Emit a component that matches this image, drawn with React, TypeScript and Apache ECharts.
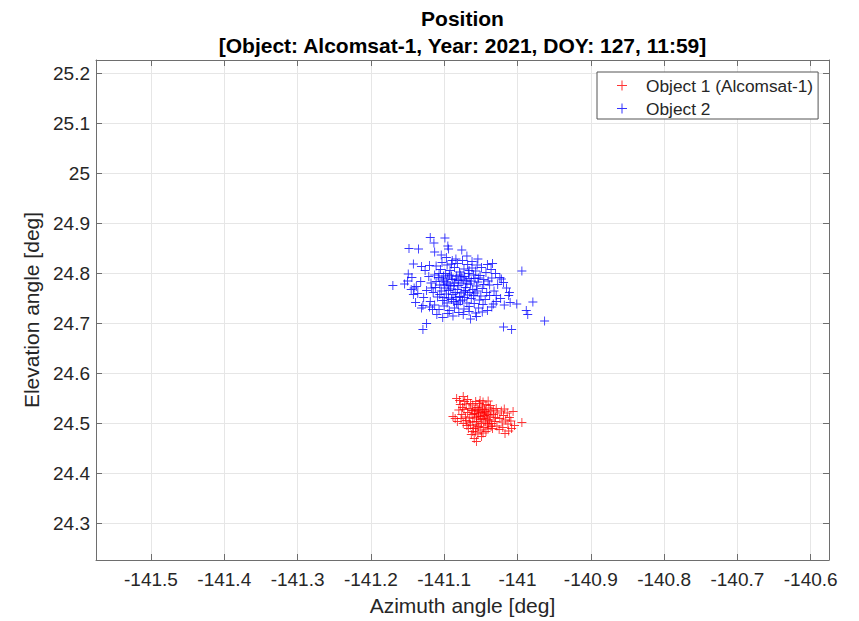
import React, { useEffect, useRef } from "react";
import * as echarts from "echarts";

// Tick positions (deg)
const azTicks = [-141.5, -141.4, -141.3, -141.2, -141.1, -141.0, -140.9, -140.8, -140.7, -140.6];
const elTicks = [24.3, 24.4, 24.5, 24.6, 24.7, 24.8, 24.9, 25.0, 25.1, 25.2];
const azRange = [-141.575, -140.575];
const elRange = [24.227, 25.227];

const seriesNames = ["Object 1 (Alcomsat-1)", "Object 2"];
const seriesColors = ["#ff0000", "#0000ff"];

// Object 1 (Alcomsat-1): [azimuth, elevation] in degrees
const object1Points: [number, number][] = [
  [-141.083, 24.55], [-141.074, 24.554], [-141.072, 24.544], [-141.085, 24.51], [-141.088, 24.514],
  [-141.006, 24.524], [-140.994, 24.502], [-141.008, 24.49], [-141.017, 24.48], [-141.056, 24.464],
  [-141.049, 24.474], [-141.078, 24.538], [-141.068, 24.548], [-141.064, 24.54], [-141.08, 24.527],
  [-141.076, 24.518], [-141.082, 24.504], [-141.07, 24.506], [-141.066, 24.53], [-141.061, 24.537],
  [-141.058, 24.525], [-141.055, 24.532], [-141.052, 24.54], [-141.048, 24.535], [-141.045, 24.528],
  [-141.042, 24.521], [-141.039, 24.531], [-141.036, 24.525], [-141.033, 24.518], [-141.03, 24.512],
  [-141.062, 24.518], [-141.059, 24.511], [-141.056, 24.504], [-141.053, 24.515], [-141.05, 24.522],
  [-141.047, 24.51], [-141.044, 24.503], [-141.041, 24.497], [-141.038, 24.507], [-141.035, 24.5],
  [-141.064, 24.497], [-141.06, 24.49], [-141.057, 24.483], [-141.053, 24.494], [-141.05, 24.487],
  [-141.046, 24.492], [-141.043, 24.484], [-141.04, 24.489], [-141.068, 24.522], [-141.071, 24.513],
  [-141.073, 24.528], [-141.067, 24.49], [-141.063, 24.478], [-141.059, 24.47], [-141.054, 24.479],
  [-141.047, 24.481], [-141.027, 24.521], [-141.024, 24.51], [-141.021, 24.503], [-141.019, 24.516],
  [-141.016, 24.507], [-141.013, 24.499], [-141.011, 24.512], [-141.028, 24.495], [-141.025, 24.488],
  [-141.031, 24.504], [-141.034, 24.49], [-141.037, 24.515], [-141.057, 24.544], [-141.051, 24.546],
  [-141.047, 24.543], [-141.043, 24.538], [-141.04, 24.545], [-141.037, 24.536], [-141.054, 24.519],
  [-141.051, 24.508], [-141.049, 24.5], [-141.045, 24.516], [-141.058, 24.528], [-141.061, 24.503],
  [-141.065, 24.511], [-141.062, 24.526], [-141.055, 24.497], [-141.043, 24.511], [-141.048, 24.527],
  [-141.052, 24.531], [-141.056, 24.513], [-141.059, 24.52], [-141.046, 24.521], [-141.04, 24.518],
  [-141.033, 24.527], [-141.029, 24.53], [-141.022, 24.525], [-141.018, 24.529], [-141.014, 24.521],
  [-141.009, 24.505], [-141.004, 24.496], [-141.012, 24.485], [-141.02, 24.492], [-141.079, 24.546],
  [-141.075, 24.532], [-141.07, 24.539], [-141.077, 24.51], [-141.074, 24.5], [-141.069, 24.496],
  [-141.066, 24.503], [-141.053, 24.525], [-141.05, 24.514], [-141.044, 24.524], [-141.041, 24.507],
  [-141.039, 24.5], [-141.036, 24.494], [-141.057, 24.491], [-141.061, 24.484],
];

// Object 2: [azimuth, elevation] in degrees
const object2Points: [number, number][] = [
  [-141.119, 24.872], [-141.099, 24.871], [-141.114, 24.861], [-141.095, 24.855], [-141.094, 24.849],
  [-141.148, 24.85], [-141.135, 24.849], [-141.113, 24.843], [-141.104, 24.837], [-141.097, 24.832],
  [-141.076, 24.847], [-141.069, 24.835], [-141.054, 24.829], [-141.084, 24.829], [-141.142, 24.819],
  [-141.131, 24.814], [-141.12, 24.816], [-141.09, 24.819], [-141.034, 24.82], [-140.994, 24.805],
  [-141.149, 24.799], [-141.144, 24.792], [-141.17, 24.776], [-141.154, 24.779], [-141.138, 24.774],
  [-141.142, 24.758], [-141.022, 24.789], [-141.129, 24.736], [-141.12, 24.733], [-141.124, 24.7],
  [-141.129, 24.688], [-141.056, 24.714], [-141.064, 24.709], [-141.019, 24.693], [-141.008, 24.688],
  [-140.979, 24.743], [-140.988, 24.726], [-140.986, 24.718], [-140.963, 24.705], [-141.001, 24.739],
  [-141.012, 24.756], [-141.01, 24.742], [-141.029, 24.756], [-141.033, 24.739],
  [-141.108, 24.792], [-141.101, 24.785], [-141.095, 24.779], [-141.089, 24.788], [-141.083, 24.795],
  [-141.077, 24.781], [-141.071, 24.772], [-141.066, 24.79], [-141.06, 24.797], [-141.054, 24.783],
  [-141.112, 24.772], [-141.104, 24.765], [-141.097, 24.759], [-141.091, 24.769], [-141.085, 24.762],
  [-141.079, 24.754], [-141.073, 24.763], [-141.068, 24.757], [-141.061, 24.768], [-141.056, 24.775],
  [-141.118, 24.781], [-141.115, 24.762], [-141.109, 24.753], [-141.102, 24.746], [-141.094, 24.751],
  [-141.087, 24.744], [-141.081, 24.738], [-141.075, 24.747], [-141.069, 24.741], [-141.063, 24.75],
  [-141.098, 24.8], [-141.092, 24.806], [-141.086, 24.812], [-141.079, 24.803], [-141.073, 24.809],
  [-141.067, 24.8], [-141.062, 24.811], [-141.057, 24.805], [-141.051, 24.796], [-141.046, 24.788],
  [-141.043, 24.802], [-141.048, 24.77], [-141.042, 24.762], [-141.038, 24.777], [-141.035, 24.791],
  [-141.05, 24.755], [-141.044, 24.748], [-141.038, 24.756], [-141.032, 24.765], [-141.027, 24.778],
  [-141.121, 24.794], [-141.126, 24.806], [-141.124, 24.766], [-141.128, 24.752], [-141.132, 24.784],
  [-141.119, 24.744], [-141.113, 24.737], [-141.107, 24.728], [-141.1, 24.735], [-141.093, 24.726],
  [-141.086, 24.731], [-141.08, 24.722], [-141.073, 24.729], [-141.066, 24.734], [-141.059, 24.74],
  [-141.053, 24.731], [-141.047, 24.738], [-141.041, 24.726], [-141.035, 24.733], [-141.029, 24.744],
  [-141.023, 24.75], [-141.018, 24.737], [-141.105, 24.808], [-141.111, 24.815], [-141.103, 24.822],
  [-141.096, 24.817], [-141.089, 24.826], [-141.082, 24.82], [-141.075, 24.826], [-141.068, 24.818],
  [-141.062, 24.824], [-141.055, 24.817], [-141.049, 24.812], [-141.041, 24.818], [-141.036, 24.808],
  [-141.03, 24.8], [-141.024, 24.792], [-141.019, 24.782], [-141.015, 24.771], [-141.011, 24.762],
  [-141.106, 24.777], [-141.099, 24.771], [-141.093, 24.797], [-141.087, 24.775], [-141.081, 24.786],
  [-141.076, 24.793], [-141.07, 24.785], [-141.064, 24.779], [-141.058, 24.761], [-141.052, 24.747],
  [-141.116, 24.728], [-141.11, 24.718], [-141.102, 24.712], [-141.095, 24.72], [-141.088, 24.715],
  [-141.074, 24.718], [-141.066, 24.724], [-141.057, 24.721], [-141.048, 24.723], [-141.136, 24.76],
  [-141.139, 24.742], [-141.131, 24.731], [-141.141, 24.771], [-141.15, 24.785], [-141.145, 24.768],
  // dense core
  [-141.103, 24.789], [-141.097, 24.783], [-141.092, 24.776], [-141.086, 24.781], [-141.08, 24.776],
  [-141.074, 24.787], [-141.069, 24.779], [-141.063, 24.785], [-141.058, 24.79], [-141.1, 24.777],
  [-141.094, 24.766], [-141.088, 24.758], [-141.082, 24.768], [-141.077, 24.761], [-141.071, 24.766],
  [-141.065, 24.762], [-141.106, 24.758], [-141.1, 24.752], [-141.09, 24.748], [-141.084, 24.752],
  [-141.078, 24.745], [-141.072, 24.752], [-141.107, 24.8], [-141.101, 24.795], [-141.095, 24.791],
  [-141.09, 24.795], [-141.084, 24.789], [-141.078, 24.797], [-141.072, 24.794], [-141.066, 24.806],
  [-141.111, 24.784], [-141.113, 24.797], [-141.117, 24.771], [-141.096, 24.741], [-141.083, 24.741],
  [-141.06, 24.756], [-141.055, 24.765], [-141.053, 24.791], [-141.046, 24.778], [-141.04, 24.785],
];

// Thin "+" marker drawn as two 1-unit bars
const PLUS = "path://M4.5,0h1v10h-1z M0,4.5h10v1h-10z";
const FONT = '"Liberation Sans", Arial, Helvetica, sans-serif';
const AXIS_COLOR = "#262626";
const FRAME_COLOR = "#6e6e6e";
const GRID_COLOR = "#e6e6e6";

const fmt = (v: number) => String(Math.round(v * 10) / 10);

const GRID = { left: 96, right: 30, top: 60, bottom: 59 };

export default function App() {
  const ref = useRef<HTMLDivElement>(null);

  useEffect(() => {
    if (!ref.current) return;
    const chart = echarts.init(ref.current, null, { renderer: "svg" });

    const plotCenterX = GRID.left + (859 - GRID.left - GRID.right) / 2;

    const baseX = {
      type: "value" as const,
      min: azRange[0],
      max: azRange[1],
      axisLine: { show: true, onZero: false, lineStyle: { color: FRAME_COLOR, width: 1 } },
      axisTick: { show: true, inside: true, length: 6, customValues: azTicks, lineStyle: { color: FRAME_COLOR } },
    };
    const baseY = {
      type: "value" as const,
      min: elRange[0],
      max: elRange[1],
      axisLine: { show: true, onZero: false, lineStyle: { color: FRAME_COLOR, width: 1 } },
      axisTick: { show: true, inside: true, length: 6, customValues: elTicks, lineStyle: { color: FRAME_COLOR } },
    };

    chart.setOption({
      animation: false,
      backgroundColor: "#ffffff",
      grid: { ...GRID, containLabel: false },
      graphic: [
        {
          type: "text",
          x: plotCenterX,
          y: 18,
          style: {
            text: "Position",
            fontFamily: FONT,
            fontSize: 21,
            fontWeight: "bold",
            fill: "#000000",
            align: "center",
            verticalAlign: "middle",
          },
        },
        {
          type: "text",
          x: plotCenterX,
          y: 45,
          style: {
            text: "[Object: Alcomsat-1, Year: 2021, DOY: 127, 11:59]",
            fontFamily: FONT,
            fontSize: 21,
            fontWeight: "bold",
            fill: "#000000",
            align: "center",
            verticalAlign: "middle",
          },
        },
      ],
      legend: {
        left: 597,
        top: 72,
        orient: "vertical",
        padding: [5, 5, 2, 20],
        itemGap: 6,
        itemWidth: 38,
        itemHeight: 10,
        backgroundColor: "#ffffff",
        borderColor: "#555555",
        borderWidth: 1,
        textStyle: { fontFamily: FONT, fontSize: 17.3, color: AXIS_COLOR, lineHeight: 17 },
        data: seriesNames.map((name, i) => ({
          name,
          icon: PLUS,
          itemStyle: { color: seriesColors[i], opacity: 0.8 },
        })),
      },
      xAxis: [
        {
          ...baseX,
          position: "bottom",
          name: "Azimuth angle [deg]",
          nameLocation: "middle",
          nameGap: 35,
          nameTextStyle: { fontFamily: FONT, fontSize: 21, color: AXIS_COLOR },
          axisLabel: {
            show: true,
            margin: 10,
            customValues: azTicks,
            formatter: fmt,
            fontFamily: FONT,
            fontSize: 19,
            color: AXIS_COLOR,
          },
          splitLine: { show: true, lineStyle: { color: GRID_COLOR, width: 1 } },
        },
        {
          ...baseX,
          position: "top",
          axisLabel: { show: false },
          splitLine: { show: false },
        },
      ],
      yAxis: [
        {
          ...baseY,
          position: "left",
          name: "Elevation angle [deg]",
          nameLocation: "middle",
          nameGap: 43,
          nameTextStyle: { fontFamily: FONT, fontSize: 21, color: AXIS_COLOR },
          axisLabel: {
            show: true,
            margin: 6,
            customValues: elTicks,
            formatter: fmt,
            fontFamily: FONT,
            fontSize: 19,
            color: AXIS_COLOR,
          },
          splitLine: { show: true, lineStyle: { color: GRID_COLOR, width: 1 } },
        },
        {
          ...baseY,
          position: "right",
          axisLabel: { show: false },
          splitLine: { show: false },
        },
      ],
      series: [object1Points, object2Points].map((pts, i) => ({
        name: seriesNames[i],
        type: "scatter",
        xAxisIndex: 0,
        yAxisIndex: 0,
        data: pts,
        symbol: PLUS,
        symbolSize: 9,
        itemStyle: { color: seriesColors[i], opacity: 0.8 },
        emphasis: { disabled: true },
        z: i === 0 ? 3 : 2,
      })),
    });

    return () => chart.dispose();
  }, []);

  return (
    <div
      ref={ref}
      style={{ position: "fixed", left: 0, top: 0, width: 859, height: 621, background: "#fff" }}
    />
  );
}
